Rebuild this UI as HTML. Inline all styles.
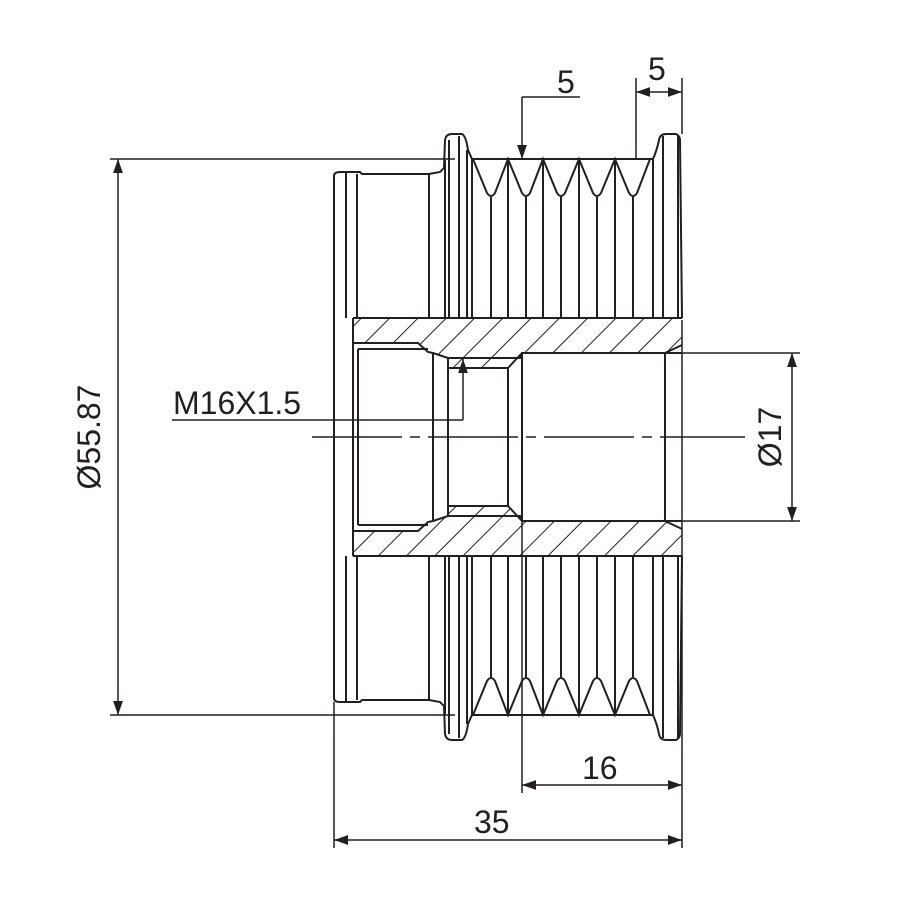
<!DOCTYPE html>
<html><head><meta charset="utf-8"><style>
html,body{margin:0;padding:0;background:#fff;}
svg{display:block}
text{font-family:"Liberation Sans",Arial,sans-serif;font-size:32px;fill:#231f20}
</style></head><body>
<svg width="900" height="900" viewBox="0 0 900 900" xmlns="http://www.w3.org/2000/svg">
<defs>
<pattern id="h" patternUnits="userSpaceOnUse" width="20" height="20" patternTransform="rotate(45)">
<line x1="0" y1="0" x2="0" y2="20" stroke="#231f20" stroke-width="2"/>
</pattern>
<marker id="a" viewBox="0 0 10 10" refX="10" refY="5" markerWidth="14" markerHeight="14" markerUnits="userSpaceOnUse" orient="auto-start-reverse">
<path d="M0,1.5 L10,5 L0,8.5Z" fill="#231f20"/>
</marker>
</defs>
<path d="M353,318 L353,343 L418,343 L428,352 L433,353 L448,358 L448,368 L508,368 L522,353 L665,353 L682,345 L682,318Z" fill="url(#h)"/>
<path d="M353,556 L353,531 L418,531 L428,522 L433,521 L448,516 L448,506 L508,506 L522,521 L665,521 L682,529 L682,556Z" fill="url(#h)"/>
<g fill="none" stroke="#231f20" stroke-width="2">
<g id="half">
<path d="M334,318 L334,176 Q334,172 340,172 L360,172 L362,174 L429,174 L440,172 L444,168 L445,140 Q446,134 452,134 L462,134 Q466,136 468,150 L472,159 L653,159 Q657,150 659,140 Q660,134 666,134 L676,134 Q680,136 680,140 L682,318"/>
<path d="M346,172V318 M357,174V318 M429,174V318 M445,160V318 M449,140V318 M459,136V318 M467,150V318 M472,159V318"/>
<path d="M663,136V318 M678,136V318 M653,159V318"/>
<path d="M473,159 L487,193 Q491,199 495,193 L508,159 L522,193 Q526,199 530,193 L543,159 L557,193 Q561,199 565,193 L579,159 L593,193 Q597,199 601,193 L615,159 L629,193 Q633,199 637,193 L650,159"/>
<path d="M491,197V318 M526,197V318 M561,197V318 M597,197V318 M633,197V318 M508,159V318 M543,159V318 M579,159V318 M615,159V318"/>
<path d="M353,318 L682,318"/>
<path d="M353,318 L353,343 L418,343 L428,352 L433,353 L448,358 L520,358 L522,353 L682,353" />
<path d="M358,349 L428,349 M433,353 L433,437 M448,368 L508,368 M448,358 L448,437 M508,368 L508,437 M508,368 L522,353 M522,353 L522,437 M665,353 L665,437 M665,353 L682,345 M353,343 L353,437 M358,349 L358,437"/>
</g>
<use href="#half" transform="matrix(1,0,0,-1,0,874)"/>
<path d="M334,318V556"/>
</g>
<line x1="312" y1="437" x2="745" y2="437" stroke="#231f20" stroke-width="1.6" stroke-dasharray="90,8,10,8"/>
<g stroke="#231f20" stroke-width="1.5" fill="none">
<path d="M110,159H455 M110,715H455"/>
<line x1="118" y1="159" x2="118" y2="715" marker-start="url(#a)" marker-end="url(#a)"/>
<path d="M682,353H800 M682,521H800"/>
<line x1="792" y1="353" x2="792" y2="521" marker-start="url(#a)" marker-end="url(#a)"/>
<path d="M334,702V848 M682,320V848 M682,78V134 M636,78V159 M522,521V793"/>
<line x1="334" y1="840" x2="682" y2="840" marker-start="url(#a)" marker-end="url(#a)"/>
<line x1="522" y1="785" x2="682" y2="785" marker-start="url(#a)" marker-end="url(#a)"/>
<line x1="636" y1="92" x2="682" y2="92" marker-start="url(#a)" marker-end="url(#a)"/>
<path d="M580,97H522"/>
<line x1="522" y1="97" x2="522" y2="159" marker-end="url(#a)"/>
<path d="M172,420H463"/>
<line x1="463" y1="420" x2="463" y2="359" marker-end="url(#a)"/>
</g>
<text x="557" y="93">5</text>
<text x="648" y="80">5</text>
<text x="582" y="779">16</text>
<text x="474" y="833">35</text>
<text x="173" y="414">M16X1.5</text>
<text transform="translate(100,437) rotate(-90)" text-anchor="middle">Ø55.87</text>
<text transform="translate(781,437) rotate(-90)" text-anchor="middle">Ø17</text>
</svg>
</body></html>
